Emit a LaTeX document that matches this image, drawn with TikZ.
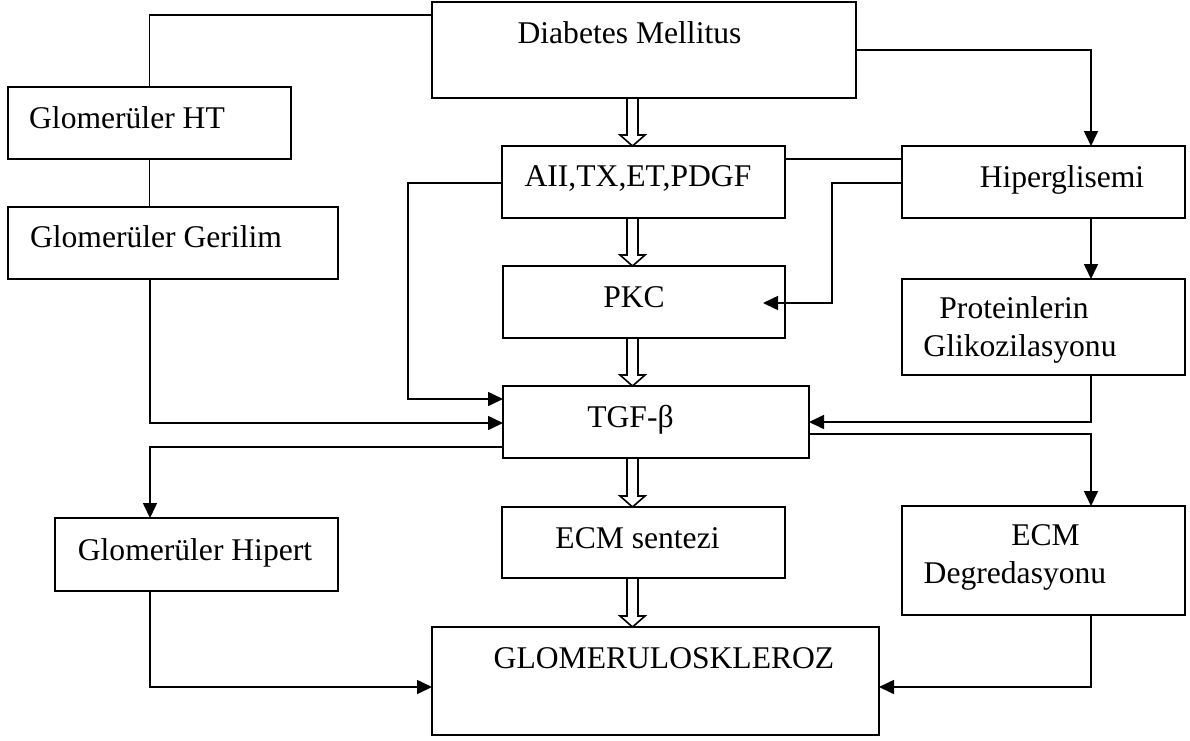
\documentclass[tikz,border=0pt]{standalone}
\usepackage{fontspec}
\setmainfont{Liberation Serif}
\usetikzlibrary{arrows.meta,calc}

\tikzset{
  box/.style={draw, line width=0.8pt, inner sep=0pt, outer sep=0pt},
  lbl/.style={anchor=base, inner sep=0pt, font=\fontsize{15.8}{19}\selectfont},
  link/.style={line width=0.8pt},
  arr/.style={line width=0.8pt, -{Triangle[width=7pt,length=7.5pt]}}
}

% open double-shaft arrow down the middle column
\newcommand{\hollowarrow}[2]{%
  \draw[link] ($(#1 -| hx)+(-5.5,0)$) -- ($(#2 -| hx)+(-5.5,-11)$) -- ++(-7,0)
    -- (#2 -| hx) -- ++(12.5,-11) -- ++(-7,0) -- ($(#1 -| hx)+(5.5,0)$);}

\begin{document}
\begin{tikzpicture}[x=0.5pt,y=-0.5pt]
   \useasboundingbox (0,0) rectangle (1190,740);
   \coordinate (lc) at (150,0);
   \coordinate (hx) at (632.5,0);
   \coordinate (rc) at (1091,0);

   % boxes
   \node[box, minimum width=212pt, minimum height=48pt] (dm) at (644,50) {};
   \node[box, minimum width=141.5pt, minimum height=36pt] (ht) at (149.5,123) {};
   \node[box, minimum width=165pt, minimum height=36pt] (ger) at (173,243) {};
   \node[box, minimum width=141.5pt, minimum height=36pt] (aii) at (643.5,182) {};
   \node[box, minimum width=141.5pt, minimum height=36pt] (hip) at (1043.5,182) {};
   \node[box, minimum width=141pt, minimum height=36pt] (pkc) at (644,302) {};
   \node[box, minimum width=141.5pt, minimum height=48pt] (prot) at (1043.5,327) {};
   \node[box, minimum width=153pt, minimum height=36pt] (tgf) at (656,422) {};
   \node[box, minimum width=141.5pt, minimum height=36.5pt] (hipert) at (196.5,554.5) {};
   \node[box, minimum width=141.5pt, minimum height=35.5pt] (ecms) at (643.5,542.5) {};
   \node[box, minimum width=141.5pt, minimum height=54.5pt] (ecmd) at (1043.5,560.5) {};
   \node[box, minimum width=223.5pt, minimum height=54pt] (glom) at (655.5,681) {};

   % texts
   \node[lbl] (dm-t) at (629.5,43) {Diabetes Mellitus};
   \node[lbl] (ht-t) at (127,128) {Glomerüler HT};
   \node[lbl] (ger-t) at (156,247) {Glomerüler Gerilim};
   \node[lbl] (aii-t) at (638,186) {AII,TX,ET,PDGF};
   \node[lbl] (hip-t) at (1062,187) {Hiperglisemi};
   \node[lbl] (pkc-t) at (634,307) {PKC};
   \node[lbl] (prot-t1) at (1014,318) {Proteinlerin};
   \node[lbl] (prot-t2) at (1020,356) {Glikozilasyonu};
   \node[lbl] (tgf-t) at (630.5,427) {TGF-β};
   \node[lbl] (hipert-t) at (195,560) {Glomerüler Hipert};
   \node[lbl] (ecms-t) at (637.5,548) {ECM sentezi};
   \node[lbl] (ecmd-t1) at (1045.5,545) {ECM};
   \node[lbl] (ecmd-t2) at (1015,583) {Degredasyonu};
   \node[lbl] (glom-t) at (664,668) {GLOMERULOSKLEROZ};

   % left side
   \draw[link] (ht.north) |- ($(dm.north west)+(0,13)$);
   \draw[link] (ht.south) -- (ht.south |- ger.north);
   \draw[arr] (ger.south -| lc) |- ($(tgf.north west)+(0,37)$);
   \draw[arr] ($(aii.north west)+(0,37)$) -- ++(-94,0) |- ($(tgf.north west)+(0,13)$);
   \draw[arr] ($(tgf.south west)+(0,-11)$) -| (hipert.north -| lc);
   \draw[arr] (hipert.south -| lc) |- ($(glom.north west)+(0,60)$);

   % right side
   \draw[arr] ($(dm.north east)+(0,48)$) -| (hip.north -| rc);
   \draw[link] ($(aii.north east)+(0,13)$) -- ($(hip.north west)+(0,13)$);
   \draw[arr] ($(hip.north west)+(0,37)$) -- ++(-70,0) |- ($(pkc.north east)+(-22,37)$);
   \draw[arr] (hip.south -| rc) -- (prot.north -| rc);
   \draw[arr] (prot.south -| rc) |- ($(tgf.north east)+(0,36)$);
   \draw[arr] ($(tgf.north east)+(0,48)$) -| (ecmd.north -| rc);
   \draw[arr] (ecmd.south -| rc) |- ($(glom.north east)+(0,60)$);

   % middle column
   \hollowarrow{dm.south}{aii.north}
   \hollowarrow{aii.south}{pkc.north}
   \hollowarrow{pkc.south}{tgf.north}
   \hollowarrow{tgf.south}{ecms.north}
   \hollowarrow{ecms.south}{glom.north}
\end{tikzpicture}
\end{document}
